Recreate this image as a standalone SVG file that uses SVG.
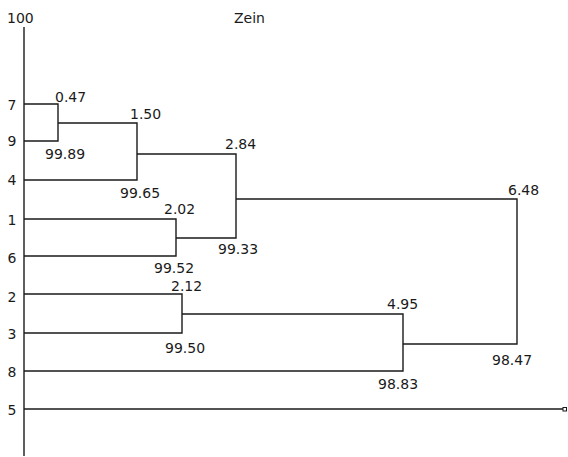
<svg xmlns="http://www.w3.org/2000/svg" width="568" height="457" viewBox="0 0 568 457">
<style>
text{font-family:"DejaVu Sans","Liberation Sans",sans-serif;font-size:14px;fill:#1a1a1a}
.leaf{text-anchor:middle}
.ln{fill:none;stroke:#1a1a1a;stroke-width:1.4}
</style>
<rect width="568" height="457" fill="#fff"/>
<g id="axis">
<line class="ln" x1="24" y1="27" x2="24" y2="456" stroke-width="1.6"/>
<text x="7" y="23">100</text>
</g>
<text id="title" x="234" y="23">Zein</text>
<g id="leaves">
<g id="leaf7"><text class="leaf" x="12" y="110">7</text></g>
<g id="leaf9"><text class="leaf" x="12" y="146">9</text></g>
<g id="leaf4"><text class="leaf" x="12" y="185">4</text></g>
<g id="leaf1"><text class="leaf" x="12" y="225">1</text></g>
<g id="leaf6"><text class="leaf" x="12" y="263">6</text></g>
<g id="leaf2"><text class="leaf" x="12" y="302">2</text></g>
<g id="leaf3"><text class="leaf" x="12" y="339">3</text></g>
<g id="leaf8"><text class="leaf" x="12" y="377">8</text></g>
<g id="leaf5"><text class="leaf" x="12" y="415">5</text></g>
</g>
<g id="connectors">
<polyline class="ln" points="24,104 58,104 58,141 24,141"/>
<polyline class="ln" points="58,123 137,123 137,180 24,180"/>
<polyline class="ln" points="137,154 236,154 236,238 176,238"/>
<polyline class="ln" points="24,219 176,219 176,256 24,256"/>
<polyline class="ln" points="236,199 517,199 517,344 403,344"/>
<polyline class="ln" points="24,294 182,294 182,333 24,333"/>
<polyline class="ln" points="182,314 403,314 403,371 24,371"/>
<line class="ln" x1="24" y1="409" x2="563" y2="409"/>
<rect x="563" y="407.5" width="3.5" height="3.5" fill="#fff" stroke="#1a1a1a" stroke-width="1"/>
</g>
<g id="n047"><text x="55" y="102">0.47</text><text x="45" y="159">99.89</text></g>
<g id="n150"><text x="130" y="119">1.50</text><text x="120" y="198">99.65</text></g>
<g id="n202"><text x="164" y="214">2.02</text><text x="154" y="273">99.52</text></g>
<g id="n284"><text x="225" y="149">2.84</text><text x="218" y="254">99.33</text></g>
<g id="n212"><text x="171" y="291">2.12</text><text x="165" y="353">99.50</text></g>
<g id="n495"><text x="387" y="309">4.95</text><text x="378" y="389">98.83</text></g>
<g id="n648"><text x="508" y="195">6.48</text><text x="492" y="365">98.47</text></g>
</svg>
